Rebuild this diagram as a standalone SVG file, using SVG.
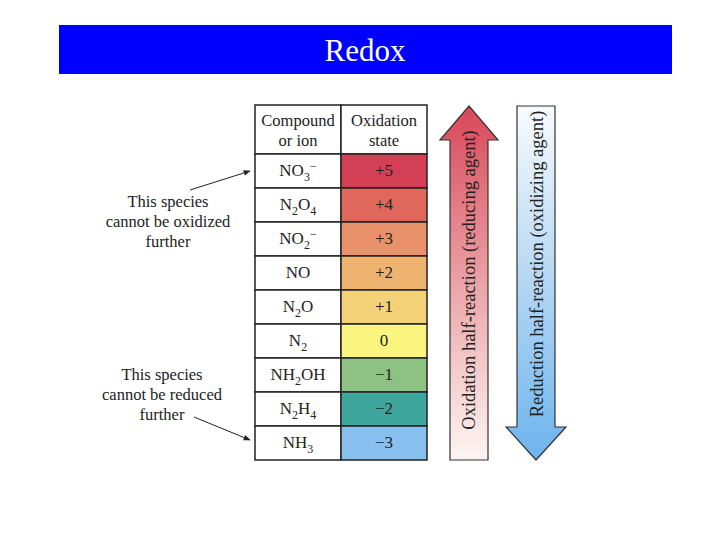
<svg xmlns="http://www.w3.org/2000/svg" width="720" height="540" viewBox="0 0 720 540">
<defs>
<linearGradient id="gRed" x1="0" y1="0" x2="0" y2="1">
<stop offset="0" stop-color="#d8475a"/>
<stop offset="0.5" stop-color="#eba3a6"/>
<stop offset="1" stop-color="#fdf5f3"/>
</linearGradient>
<linearGradient id="gBlue" x1="0" y1="0" x2="0" y2="1">
<stop offset="0" stop-color="#f8fbfe"/>
<stop offset="0.5" stop-color="#b3d6f3"/>
<stop offset="1" stop-color="#6cb4ee"/>
</linearGradient>
<marker id="ah" viewBox="0 0 10 10" refX="9" refY="5" markerWidth="8" markerHeight="7" orient="auto" markerUnits="userSpaceOnUse">
<path d="M0,1 L10,5 L0,9 Z" fill="#222"/>
</marker>
<style>
text{font-family:"Liberation Serif","Times New Roman",serif;fill:#222;}
.t{font-size:16.5px;text-anchor:middle;}
.c{font-size:17px;text-anchor:middle;}
.s{font-size:12px;}
.cell{stroke:#222;stroke-width:1.5;}
.lbl{font-size:16.5px;text-anchor:middle;}
.conn{stroke:#222;stroke-width:1;fill:none;marker-end:url(#ah);}
</style>
</defs>
<rect width="720" height="540" fill="#fff"/>
<g id="title">
<rect x="59" y="25" width="613" height="49" fill="#0000ff"/>
<text x="365" y="61" style="font-size:31px;text-anchor:middle;fill:#fff">Redox</text>
</g>
<g id="table">
<rect class="cell" x="255" y="105" width="86" height="49" fill="#fff"/>
<rect class="cell" x="341" y="105" width="86" height="49" fill="#fff"/>
<text class="t" x="298" y="126">Compound</text>
<text class="t" x="298" y="146">or ion</text>
<text class="t" x="384" y="126">Oxidation</text>
<text class="t" x="384" y="146">state</text>
</g>
<g id="row-no3">
<rect class="cell" x="255" y="154" width="86" height="34" fill="#fff"/>
<rect class="cell" x="341" y="154" width="86" height="34" fill="#d33f55"/>
<text class="c" x="298" y="176">NO<tspan class="s" dy="5">3</tspan><tspan class="s" dy="-11">−</tspan></text>
<text class="c" x="384" y="176">+5</text>
</g>
<g id="row-n2o4">
<rect class="cell" x="255" y="188" width="86" height="34" fill="#fff"/>
<rect class="cell" x="341" y="188" width="86" height="34" fill="#e0675b"/>
<text class="c" x="298" y="210">N<tspan class="s" dy="5">2</tspan><tspan dy="-5">O</tspan><tspan class="s" dy="5">4</tspan></text>
<text class="c" x="384" y="210">+4</text>
</g>
<g id="row-no2">
<rect class="cell" x="255" y="222" width="86" height="34" fill="#fff"/>
<rect class="cell" x="341" y="222" width="86" height="34" fill="#e9916a"/>
<text class="c" x="298" y="244">NO<tspan class="s" dy="5">2</tspan><tspan class="s" dy="-11">−</tspan></text>
<text class="c" x="384" y="244">+3</text>
</g>
<g id="row-no">
<rect class="cell" x="255" y="256" width="86" height="34" fill="#fff"/>
<rect class="cell" x="341" y="256" width="86" height="34" fill="#eeb36f"/>
<text class="c" x="298" y="278">NO</text>
<text class="c" x="384" y="278">+2</text>
</g>
<g id="row-n2o">
<rect class="cell" x="255" y="290" width="86" height="34" fill="#fff"/>
<rect class="cell" x="341" y="290" width="86" height="34" fill="#f4d278"/>
<text class="c" x="298" y="312">N<tspan class="s" dy="5">2</tspan><tspan dy="-5">O</tspan></text>
<text class="c" x="384" y="312">+1</text>
</g>
<g id="row-n2">
<rect class="cell" x="255" y="324" width="86" height="34" fill="#fff"/>
<rect class="cell" x="341" y="324" width="86" height="34" fill="#fbf47e"/>
<text class="c" x="298" y="346">N<tspan class="s" dy="5">2</tspan></text>
<text class="c" x="384" y="346">0</text>
</g>
<g id="row-nh2oh">
<rect class="cell" x="255" y="358" width="86" height="34" fill="#fff"/>
<rect class="cell" x="341" y="358" width="86" height="34" fill="#8dc283"/>
<text class="c" x="298" y="380">NH<tspan class="s" dy="5">2</tspan><tspan dy="-5">OH</tspan></text>
<text class="c" x="384" y="380">−1</text>
</g>
<g id="row-n2h4">
<rect class="cell" x="255" y="392" width="86" height="34" fill="#fff"/>
<rect class="cell" x="341" y="392" width="86" height="34" fill="#3fa69d"/>
<text class="c" x="298" y="414">N<tspan class="s" dy="5">2</tspan><tspan dy="-5">H</tspan><tspan class="s" dy="5">4</tspan></text>
<text class="c" x="384" y="414">−2</text>
</g>
<g id="row-nh3">
<rect class="cell" x="255" y="426" width="86" height="34" fill="#fff"/>
<rect class="cell" x="341" y="426" width="86" height="34" fill="#87c0ee"/>
<text class="c" x="298" y="448">NH<tspan class="s" dy="5">3</tspan></text>
<text class="c" x="384" y="448">−3</text>
</g>
<g id="oxidation-arrow">
<path d="M469,106 L498,140 L488,140 L488,460 L450,460 L450,140 L440,140 Z" fill="url(#gRed)" stroke="#333" stroke-width="1.2"/>
<text x="475" y="280" transform="rotate(-90 475 280)" style="font-size:18.5px;text-anchor:middle">Oxidation half-reaction (reducing agent)</text>
</g>
<g id="reduction-arrow">
<path d="M517,106 L555,106 L555,427 L566,427 L536,460 L506,427 L517,427 Z" fill="url(#gBlue)" stroke="#333" stroke-width="1.2"/>
<text x="543" y="264" transform="rotate(-90 543 264)" style="font-size:18.5px;text-anchor:middle">Reduction half-reaction (oxidizing agent)</text>
</g>
<g id="note-oxidized">
<text class="lbl" x="168" y="207">This species</text>
<text class="lbl" x="168" y="227">cannot be oxidized</text>
<text class="lbl" x="168" y="247">further</text>
</g>
<g id="note-reduced">
<text class="lbl" x="162" y="380">This species</text>
<text class="lbl" x="162" y="400">cannot be reduced</text>
<text class="lbl" x="162" y="420">further</text>
</g>
<g id="connectors">
<path class="conn" d="M190,190 L250,171"/>
<path class="conn" d="M194,417 L250,440"/>
</g>
</svg>
